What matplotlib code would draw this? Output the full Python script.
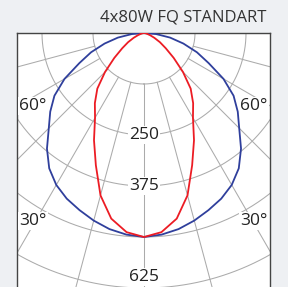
import numpy as np
import matplotlib
matplotlib.use("Agg")
import matplotlib.pyplot as plt

plt.rcParams['font.family'] = ['Open Sans', 'DejaVu Sans']

TITLE = "4x80W FQ STANDART"

# gamma angles (deg) and intensities (cd/klm)
angles = [0, 5, 10, 15, 20, 25, 30, 35, 40, 45, 50, 55, 60, 65, 70, 75, 80, 85, 90]
c0_values = [500, 496, 488, 476, 462, 448, 430, 405, 370, 330, 300, 268, 225, 175, 138, 100, 65, 30, 0]
c90_values = [500, 490, 462, 412, 345, 290, 240, 210, 178, 135, 95, 65, 45, 28, 16, 8, 4, 1, 0]

ring_values = [125, 250, 375, 500, 625, 750]
ring_labels = ["250", "375", "625"]
ring_label_pos = [250, 375, 598]
grid_angles = list(range(-90, 91, 15))
angle_labels = ["60°", "30°"]

BLUE = "#2f3f9c"
RED = "#ec1c24"
GRID = "#ababab"
TEXT = "#222222"

# pixel layout
W, H = 288, 287
BOX_L, BOX_R, BOX_T = 17, 270, 33
CENTER_X = 144
PX_PER_UNIT = 51.0 / 125


def polar_to_xy(theta_deg, r):
    t = np.radians(np.asarray(theta_deg, dtype=float))
    r = np.asarray(r, dtype=float)
    return r * np.sin(t), -r * np.cos(t)


def mirrored(values):
    th = [-a for a in angles[::-1]] + angles[1:]
    vals = values[::-1] + values[1:]
    return th, vals


def create_graph():
    fig = plt.figure(figsize=(W / 100, H / 100), dpi=100)
    fig.patch.set_facecolor("#eef0f3")

    ax = fig.add_axes([BOX_L / W, 0, (BOX_R - BOX_L) / W, (H - BOX_T) / H])
    ax.set_facecolor("white")
    ax.set_xlim(-(CENTER_X - BOX_L) / PX_PER_UNIT, (BOX_R - CENTER_X) / PX_PER_UNIT)
    ax.set_ylim(-(H - BOX_T) / PX_PER_UNIT, 0)
    ax.set_xticks([])
    ax.set_yticks([])
    for side in ["left", "right", "top"]:
        ax.spines[side].set_color("#444444")
        ax.spines[side].set_linewidth(1.0)
    ax.spines["bottom"].set_visible(False)

    circ = np.linspace(0, 360, 721)
    for rv in ring_values:
        x, y = polar_to_xy(circ, np.full_like(circ, rv))
        ax.plot(x, y, color=GRID, lw=0.75, zorder=1)
    for a in grid_angles:
        x, y = polar_to_xy([a, a], [ring_values[0], 1000])
        ax.plot(x, y, color=GRID, lw=0.75, zorder=1)

    th, vals = mirrored(c0_values)
    x, y = polar_to_xy(th, vals)
    ax.plot(x, y, color=BLUE, lw=1.3, zorder=3)

    th, vals = mirrored(c90_values)
    x, y = polar_to_xy(th, vals)
    ax.plot(x, y, color=RED, lw=1.3, zorder=3)

    box = dict(facecolor="white", edgecolor="none", pad=1.0)
    for label, pos in zip(ring_labels, ring_label_pos):
        ax.text(0, -pos, label, ha="center", va="center", fontsize=12.5,
                color=TEXT, bbox=box, zorder=4)

    for label, ypx in zip(angle_labels, [106, 221]):
        yf = (H - ypx) / (H - BOX_T)
        ax.text(0.008, yf, label, transform=ax.transAxes, ha="left", va="center",
                fontsize=12.5, color=TEXT, bbox=box, zorder=4)
        ax.text(0.99, yf, label, transform=ax.transAxes, ha="right", va="center",
                fontsize=12.5, color=TEXT, bbox=box, zorder=4)

    fig.text(266 / W, 1 - 18 / H, TITLE, ha="right", va="center",
             fontsize=12, color="#333333")

    fig.savefig("out.png", dpi=100, facecolor=fig.get_facecolor())


if __name__ == "__main__":
    create_graph()
